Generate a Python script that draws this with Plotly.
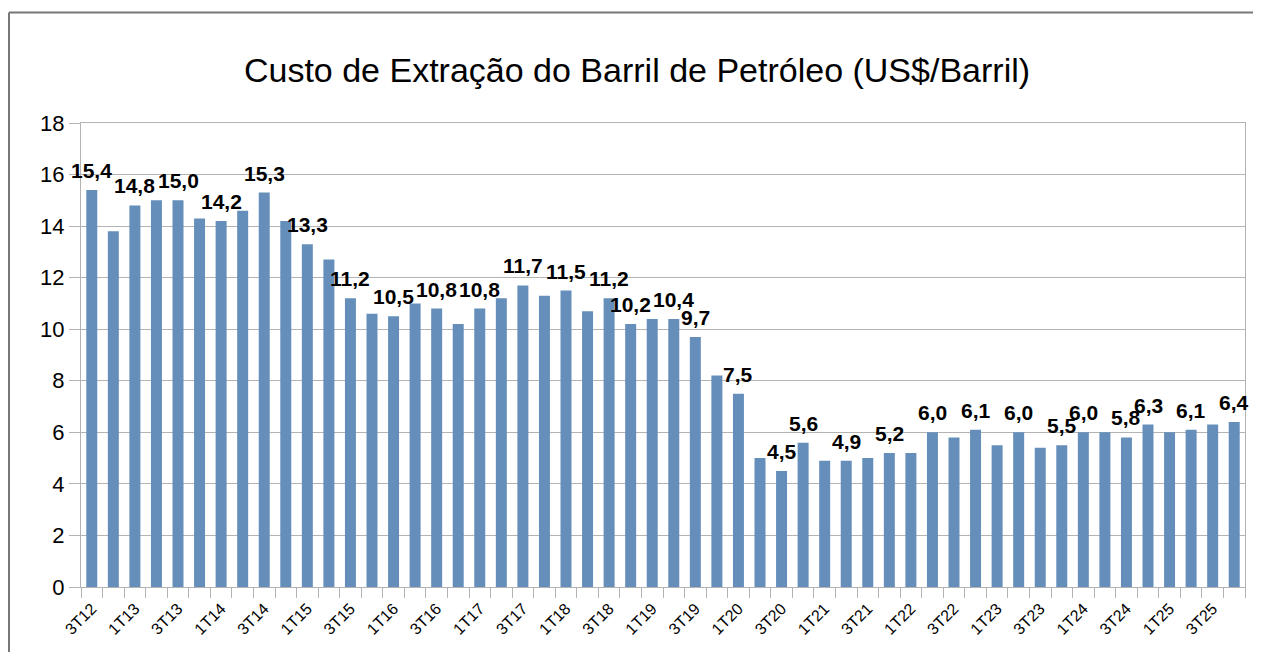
import plotly.graph_objects as go

quarters = [
    "3T12", "4T12", "1T13", "2T13", "3T13", "4T13", "1T14", "2T14", "3T14", "4T14",
    "1T15", "2T15", "3T15", "4T15", "1T16", "2T16", "3T16", "4T16", "1T17", "2T17",
    "3T17", "4T17", "1T18", "2T18", "3T18", "4T18", "1T19", "2T19", "3T19", "4T19",
    "1T20", "2T20", "3T20", "4T20", "1T21", "2T21", "3T21", "4T21", "1T22", "2T22",
    "3T22", "4T22", "1T23", "2T23", "3T23", "4T23", "1T24", "2T24", "3T24", "4T24",
    "1T25", "2T25", "3T25", "4T25",
]
cost = [
    15.4, 13.8, 14.8, 15.0, 15.0, 14.3, 14.2, 14.6, 15.3, 14.2,
    13.3, 12.7, 11.2, 10.6, 10.5, 11.0, 10.8, 10.2, 10.8, 11.2,
    11.7, 11.3, 11.5, 10.7, 11.2, 10.2, 10.4, 10.4, 9.7, 8.2,
    7.5, 5.0, 4.5, 5.6, 4.9, 4.9, 5.0, 5.2, 5.2, 6.0,
    5.8, 6.1, 5.5, 6.0, 5.4, 5.5, 6.0, 6.0, 5.8, 6.3,
    6.0, 6.1, 6.3, 6.4,
]
labeled = [
    "3T12", "1T13", "3T13", "1T14", "3T14", "1T15", "3T15", "1T16", "3T16", "1T17",
    "3T17", "1T18", "3T18", "4T18", "2T19", "3T19", "1T20", "3T20", "4T20", "2T21",
    "4T21", "2T22", "4T22", "2T23", "4T23", "1T24", "3T24", "4T24", "2T25", "4T25",
]
tick_text = [q if i % 2 == 0 else "" for i, q in enumerate(quarters)]
y_ticks = [0, 2, 4, 6, 8, 10, 12, 14, 16, 18]

# page body adds an 8px margin; figure is sized to fill the rest
OFF = 8
W, H = 1261 - OFF, 652 - OFF
ML, MR, MT, MB = 81 - OFF, 16, 123.3 - OFF, 652 - 586.7
FONT = "Liberation Sans, Arial, sans-serif"
BAR = "#658fba"
GRID = "#b3b3b3"

fig = go.Figure()
fig.add_trace(go.Bar(
    x=quarters, y=cost, marker=dict(color=BAR, line=dict(width=0)),
    hoverinfo="x+y",
))

for q, v in zip(quarters, cost):
    if q in labeled:
        fig.add_annotation(
            x=q, y=v, xref="x", yref="y", yanchor="bottom", yshift=6,
            text=f"{v:.1f}".replace(".", ","), showarrow=False,
            font=dict(family=FONT, size=21, color="#000000", weight="bold"),
        )

pw = W - ML - MR
ph = H - MT - MB
def px2x(px):
    return (px - OFF - ML) / pw
def py2y(py):
    return (H - MB - (py - OFF)) / ph

frame = dict(color="#777777", width=2)
fig.add_shape(type="line", xref="paper", yref="paper",
              x0=px2x(9), x1=px2x(1265), y0=py2y(13), y1=py2y(13), line=frame)
fig.add_shape(type="line", xref="paper", yref="paper",
              x0=px2x(9), x1=px2x(9), y0=py2y(13), y1=py2y(670), line=frame)

fig.update_layout(
    width=W, height=H,
    margin=dict(l=ML, r=MR, t=MT, b=MB, autoexpand=False),
    paper_bgcolor="white", plot_bgcolor="white",
    bargap=0.49,
    showlegend=False,
    font=dict(family=FONT, color="#000000"),
    title=dict(
        text="Custo de Extração do Barril de Petróleo (US$/Barril)",
        x=(637 - OFF) / W, xref="container", xanchor="center",
        y=1 - (70 - OFF) / H, yref="container", yanchor="middle",
        font=dict(family=FONT, size=34, color="#000000"),
    ),
    xaxis=dict(
        type="category", tickmode="array", tickvals=quarters, ticktext=tick_text,
        tickson="boundaries", ticks="outside", ticklen=10, tickcolor=GRID, tickwidth=1,
        tickangle=-45, tickfont=dict(family=FONT, size=16, color="#000000"),
        ticklabelstandoff=5,
        showline=True, linecolor=GRID, linewidth=1, mirror=True,
        showgrid=False, zeroline=False, range=[-0.5, len(quarters) - 0.5],
    ),
    yaxis=dict(
        range=[0, 18], tickmode="array", tickvals=y_ticks,
        ticks="outside", ticklen=11, tickcolor=GRID, tickwidth=1,
        tickfont=dict(family=FONT, size=22, color="#000000"),
        showgrid=True, gridcolor=GRID, gridwidth=1,
        showline=True, linecolor=GRID, linewidth=1, mirror=True,
        zeroline=False,
    ),
)

fig.write_html("out.html")
